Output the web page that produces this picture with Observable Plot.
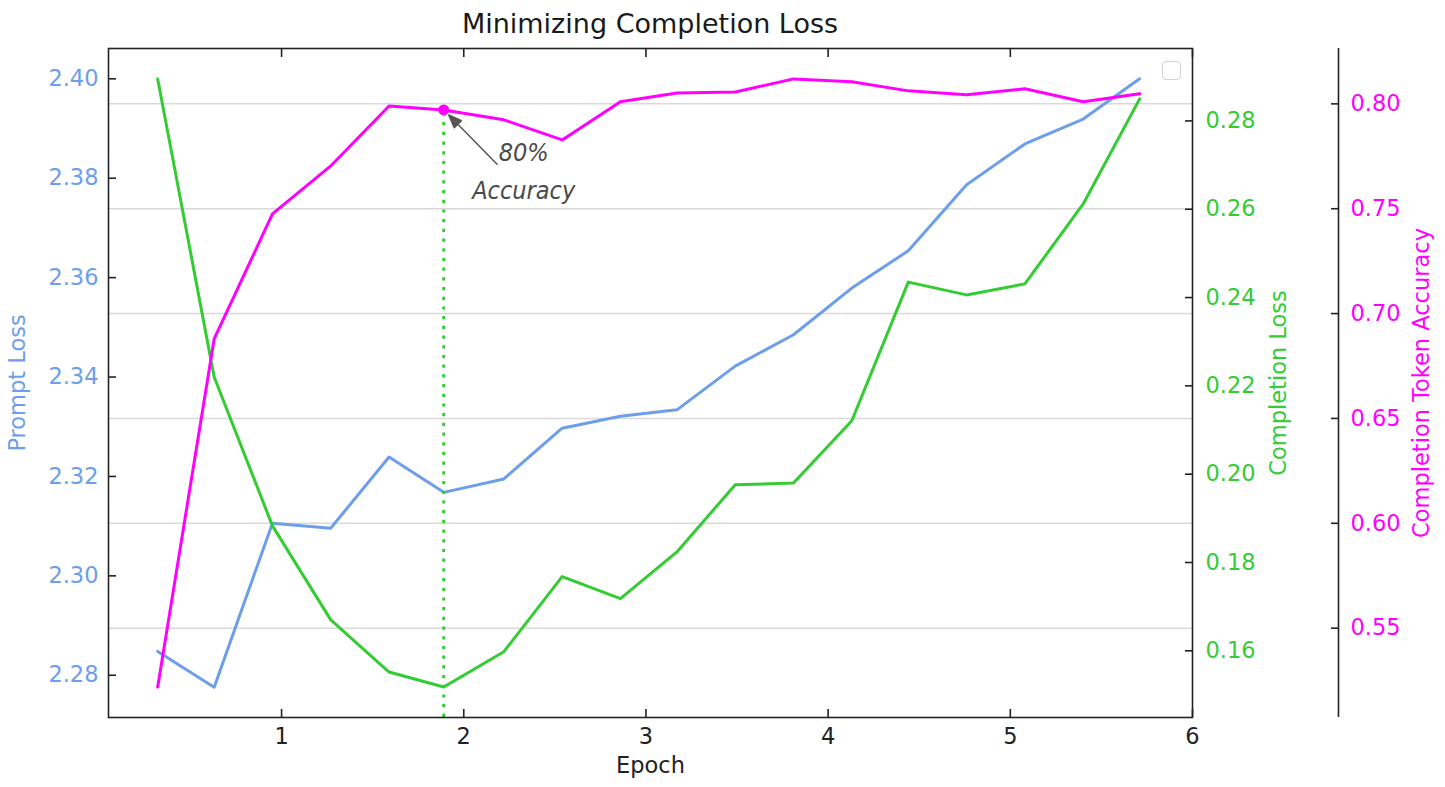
<!DOCTYPE html>
<html>
<head>
<meta charset="utf-8">
<script src="https://cdn.jsdelivr.net/npm/d3@7"></script>
<script src="https://cdn.jsdelivr.net/npm/@observablehq/plot@0.6"></script>
<style>
  body { margin: 0; background: #fff; font-family: "DejaVu Sans", sans-serif; }
  #wrap { position: relative; width: 1445px; height: 787px; overflow: hidden; }
  #title { position: absolute; left: 0; top: 0; width: 1300px; height: 40px; text-align: center;
           font-size: 27px; line-height: 47px; color: #1a1a1a; white-space: nowrap; }
  .layer { position: absolute; left: 0; top: 40px; }
  #legend { position: absolute; left: 1162px; top: 61px; width: 17px; height: 17px;
            border: 1.5px solid #d2d2d2; border-radius: 4px; background: #fff; }
</style>
</head>
<body>
<div id="wrap">
  <div id="title">Minimizing Completion Loss</div>
</div>
<script>
// ---- data ----
const epoch = [0.32, 0.63, 0.95, 1.27, 1.59, 1.89, 2.22, 2.54, 2.86, 3.17, 3.49, 3.81, 4.13, 4.44, 4.76, 5.08, 5.40, 5.71];
const promptLoss = [2.2848, 2.2776, 2.3106, 2.3096, 2.3239, 2.3168, 2.3195, 2.3297, 2.3321, 2.3334, 2.3422, 2.3485, 2.3579, 2.3654, 2.3787, 2.3869, 2.3919, 2.4000];
const completionLoss = [0.2895, 0.2220, 0.1883, 0.1670, 0.1552, 0.1518, 0.1598, 0.1768, 0.1718, 0.1824, 0.1976, 0.1980, 0.2121, 0.2435, 0.2406, 0.2431, 0.2612, 0.2850];
const tokenAccuracy = [0.5219, 0.6879, 0.7475, 0.7704, 0.7990, 0.7971, 0.7924, 0.7828, 0.8010, 0.8052, 0.8057, 0.8119, 0.8105, 0.8062, 0.8043, 0.8072, 0.8010, 0.8048];

const epochTicks = [1, 2, 3, 4, 5, 6];
const promptTicks = [2.28, 2.30, 2.32, 2.34, 2.36, 2.38, 2.40];
const completionTicks = [0.16, 0.18, 0.20, 0.22, 0.24, 0.26, 0.28];
const accuracyTicks = [0.55, 0.60, 0.65, 0.70, 0.75, 0.80];

const xDomain = [0.05, 6.0];
const promptDomain = [2.2715, 2.4061];
const completionDomain = [0.1449, 0.2964];
const accuracyDomain = [0.5074, 0.8264];

const highlightIndex = 5;
const annotationText = "80%\nAccuracy";
const labels = {x: "Epoch", prompt: "Prompt Loss", completion: "Completion Loss", accuracy: "Completion Token Accuracy"};

// ---- styling ----
const BLUE = "#6d9eeb", GREEN = "#33cc33", MAGENTA = "#ff00ff", INK = "#222";
const W = 1445, H = 747, ML = 108, MR = 253, MT = 8, MB = 70;

const rows = epoch.map((e, i) => ({epoch: e, prompt: promptLoss[i], completion: completionLoss[i], accuracy: tokenAccuracy[i]}));
const hi = [rows[highlightIndex]];

function layer(yDomain, marks, opts = {}) {
  const svg = Plot.plot({
    width: W, height: H,
    marginLeft: ML, marginRight: MR, marginTop: MT, marginBottom: MB,
    x: {domain: xDomain, axis: opts.xAxis ? undefined : null},
    y: {domain: yDomain, axis: opts.yAxis ? undefined : null},
    style: {background: "transparent", fontFamily: "DejaVu Sans, sans-serif", fontSize: "22.5px", overflow: "visible"},
    marks
  });
  svg.classList.add("layer");
  document.getElementById("wrap").appendChild(svg);
}

const axisCommon = {tickSize: -8, stroke: INK, strokeWidth: 1.6, labelAnchor: "center", labelArrow: "none"};

// grid (from the accuracy axis)
layer(accuracyDomain, [
  Plot.ruleY(accuracyTicks, {stroke: "#d9d9d9", strokeWidth: 1.5})
]);

// prompt loss
layer(promptDomain, [
  Plot.line(rows, {x: "epoch", y: "prompt", stroke: BLUE, strokeWidth: 3}),
  Plot.axisY(promptTicks, {...axisCommon, anchor: "left", tickPadding: 18, fill: BLUE,
    tickFormat: d3.format(".2f"), label: labels.prompt, labelOffset: 99})
], {yAxis: true});

// completion loss
layer(completionDomain, [
  Plot.line(rows, {x: "epoch", y: "completion", stroke: GREEN, strokeWidth: 3}),
  Plot.axisY(completionTicks, {...axisCommon, anchor: "right", tickPadding: 21, fill: GREEN,
    tickFormat: d3.format(".2f"), label: labels.completion, labelOffset: 93})
], {yAxis: true});

// token accuracy
const arrowShape = {
  draw(context, l) {
    const h = 13, w = 5;
    context.moveTo(0, 0);
    context.lineTo(0, -l + h);
    context.moveTo(0, -l);
    context.lineTo(-w, -l + h);
    context.lineTo(w, -l + h);
    context.closePath();
  }
};
layer(accuracyDomain, [
  Plot.ruleX(hi, {x: "epoch", y1: () => accuracyDomain[0], y2: "accuracy", stroke: GREEN, strokeWidth: 3, strokeDasharray: "3.2,6.5"}),
  Plot.line(rows, {x: "epoch", y: "accuracy", stroke: MAGENTA, strokeWidth: 3}),
  Plot.dot(hi, {x: "epoch", y: "accuracy", r: 5.5, fill: MAGENTA}),
  Plot.vector(hi, {x: "epoch", y: "accuracy", length: 69, rotate: -44.5, anchor: "end", dx: 5, dy: 5,
    shape: arrowShape, stroke: "#555", fill: "#555", strokeWidth: 1.5}),
  Plot.text(hi, {x: "epoch", y: "accuracy", text: () => annotationText, dx: 80, dy: 24,
    lineAnchor: "top", textAnchor: "middle", fontSize: 25, lineHeight: 1.52,
    fontFamily: "DejaVu Sans Condensed, DejaVu Sans, sans-serif", fontStyle: "oblique", fill: "#4a4a4a"}),
  Plot.ruleX([xDomain[1]], {dx: 146, stroke: INK, strokeWidth: 1.6}),
  Plot.axisY(accuracyTicks, {...axisCommon, anchor: "right", dx: 146, tickPadding: 20, fill: MAGENTA,
    tickFormat: d3.format(".2f"), label: labels.accuracy, labelOffset: 236})
], {yAxis: true});

// frame and x axes on top
layer(promptDomain, [
  Plot.frame({stroke: INK, strokeWidth: 1.6}),
  Plot.axisX(epochTicks, {...axisCommon, anchor: "top", tickFormat: () => "", label: null}),
  Plot.axisX(epochTicks, {...axisCommon, anchor: "bottom", tickPadding: 19, fill: INK,
    tickFormat: d3.format("d"), label: labels.x, labelOffset: 55})
], {xAxis: true});

const lg = document.createElement("div");
lg.id = "legend";
document.getElementById("wrap").appendChild(lg);
</script>
</body>
</html>
